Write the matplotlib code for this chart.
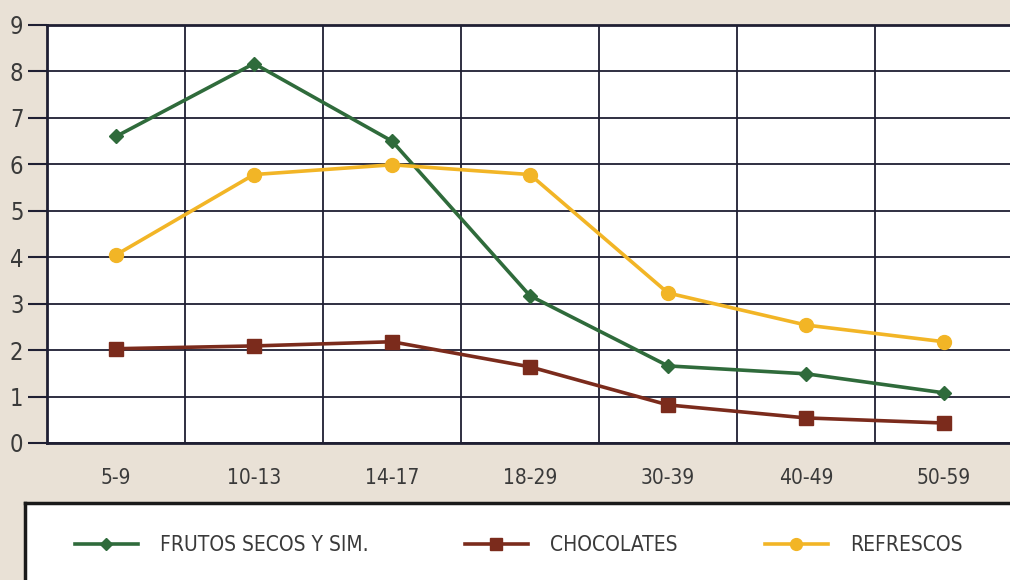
import numpy as np
import matplotlib.pyplot as plt
from matplotlib.legend import Legend

grupos = ['5-9', '10-13', '14-17', '18-29', '30-39', '40-49', '50-59']
frutos = [6.6, 8.17, 6.5, 3.17, 1.66, 1.49, 1.08]
chocolates = [2.03, 2.09, 2.18, 1.64, 0.82, 0.54, 0.43]
refrescos = [4.05, 5.78, 5.99, 5.78, 3.23, 2.54, 2.18]
yticks = list(range(0, 10))

plt.rcParams['font.family'] = ['Liberation Sans Narrow', 'DejaVu Sans']
plt.rcParams['font.stretch'] = 'condensed'

bg = '#e9e1d6'
grid_c = '#1f1f33'
txt_c = '#3a3a3a'

fig = plt.figure(figsize=(10.1, 5.8), dpi=100, facecolor=bg)
ax = fig.add_axes([47/1010, 137/580, 966/1010, 418/580])
ax.set_facecolor('white')

x = np.arange(len(grupos))
ax.plot(x, frutos, color='#2f6b3b', lw=2.6, marker='D', ms=7, label='FRUTOS SECOS Y SIM.', zorder=3)
ax.plot(x, chocolates, color='#7b2b1c', lw=2.6, marker='s', ms=10, label='CHOCOLATES', zorder=3)
ax.plot(x, refrescos, color='#f2b526', lw=2.6, marker='o', ms=10, label='REFRESCOS', zorder=3)

ax.set_xlim(-0.5, 6.5)
ax.set_ylim(0, 9)
ax.set_yticks(yticks)
ax.set_yticklabels([str(v) for v in yticks], fontsize=17, color=txt_c)
ax.set_xticks(x)
ax.set_xticklabels(grupos, fontsize=15, color=txt_c)
ax.tick_params(axis='y', length=14, width=1.5, color=grid_c, pad=3)
ax.tick_params(axis='x', length=0, pad=18)
ax.set_xticks(np.arange(-0.5, 7, 1), minor=True)
ax.tick_params(axis='x', which='minor', length=0)
ax.grid(True, axis='y', which='major', color=grid_c, lw=1.3)
ax.grid(True, axis='x', which='minor', color=grid_c, lw=1.3)
ax.grid(False, axis='x', which='major')
ax.set_axisbelow(True)
for s in ax.spines.values():
    s.set_color(grid_c)
    s.set_linewidth(2)

# legend box
lax = fig.add_axes([25/1010, -0.05, 1.0, (580-503)/580 + 0.05])
lax.set_facecolor('white')
lax.set_xlim(0, 1)
lax.set_xticks([])
lax.set_yticks([])
for s in lax.spines.values():
    s.set_color('#1a1a1a')
    s.set_linewidth(2.5)
h, l = ax.get_legend_handles_labels()
# one entry per legend so each sits where the reference has it
anchors = [50/1010, 440/1010, 740/1010]
for hi, li, a in zip(h, l, anchors):
    leg = Legend(lax, [hi], [li], loc='center left', bbox_to_anchor=(a, 0.6),
                 frameon=False, fontsize=15, handlelength=3.0, handletextpad=1.1,
                 markerscale=0.85, borderaxespad=0, borderpad=0)
    for t in leg.get_texts():
        t.set_color(txt_c)
    lax.add_artist(leg)

fig.savefig('out.png', dpi=100, facecolor=bg)
